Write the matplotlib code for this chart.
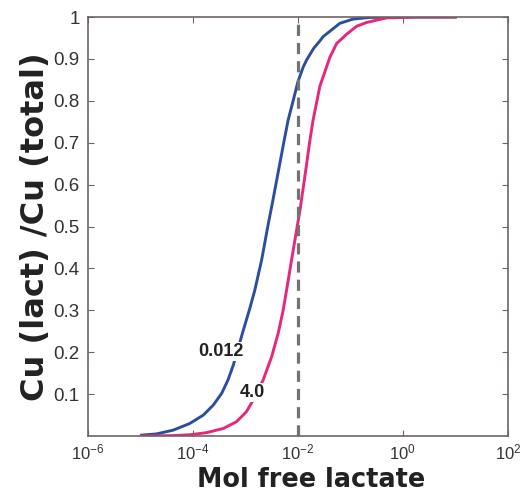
import numpy as np
import matplotlib
matplotlib.use("Agg")
import matplotlib.pyplot as plt

plt.rcParams["font.family"] = ["Liberation Sans", "DejaVu Sans"]
plt.rcParams["mathtext.fontset"] = "custom"
plt.rcParams["mathtext.rm"] = "Liberation Sans"
plt.rcParams["mathtext.it"] = "Liberation Sans:italic"
plt.rcParams["mathtext.bf"] = "Liberation Sans:bold"

# values (log10 of free lactate, bound fraction)
blue_logx = [-4.98, -4.69, -4.375, -4.057, -3.80, -3.61, -3.45, -3.33, -3.23, -3.17,
             -3.04, -2.914, -2.82, -2.69, -2.573, -2.47, -2.26, -2.185, -2.09, -2.0,
             -1.90, -1.835, -1.70, -1.58, -1.52, -1.26, -1.2, -0.95, -0.63, 0.0, 1.0]
blue_y = [0.002, 0.005, 0.014, 0.030, 0.050, 0.074, 0.102, 0.134, 0.169, 0.195,
          0.252, 0.305, 0.348, 0.42, 0.50, 0.566, 0.706, 0.754, 0.80, 0.845,
          0.88, 0.897, 0.925, 0.943, 0.953, 0.979, 0.985, 0.995, 0.999, 1.0, 1.0]
pink_logx = [-4.98, -4.375, -4.057, -3.74, -3.42, -3.17, -2.98, -2.85, -2.66, -2.50,
             -2.375, -2.28, -2.215, -2.12, -1.96, -1.867, -1.77, -1.71, -1.58, -1.39,
             -1.26, -1.07, -0.88, -0.69, -0.31, 0.3, 1.0]
pink_y = [0.0, 0.001, 0.003, 0.008, 0.018, 0.034, 0.058, 0.086, 0.134, 0.189,
          0.245, 0.30, 0.348, 0.42, 0.539, 0.619, 0.706, 0.754, 0.835, 0.904,
          0.937, 0.959, 0.978, 0.987, 0.998, 1.0, 1.0]
curve_labels = ["0.012", "4.0"]
vline_x = 1e-2
yticks = [0.1, 0.2, 0.3, 0.4, 0.5, 0.6, 0.7, 0.8, 0.9, 1.0]
ytick_labels = ["0.1", "0.2", "0.3", "0.4", "0.5", "0.6", "0.7", "0.8", "0.9", "1"]
xticks = [1e-6, 1e-4, 1e-2, 1e0, 1e2]

BLUE = "#2c4e9e"; PINK = "#e6277c"; FRAME = "#6e6562"; INK = "#222222"

fig = plt.figure(figsize=(5.23, 4.92), dpi=100)
ax = fig.add_axes([0.168, 0.1138, 0.803, 0.8516])

ax.plot(10 ** np.array(blue_logx), blue_y, color=BLUE, lw=2.1, solid_joinstyle="round")
ax.plot(10 ** np.array(pink_logx), pink_y, color=PINK, lw=2.1, solid_joinstyle="round")
ax.axvline(vline_x, color="#737373", lw=2.3, ls=(0, (3.5, 2.2)))

box = dict(facecolor="white", edgecolor="none", pad=0.6)
ax.text(10 ** -3.457, 0.201, curve_labels[0], fontsize=13, fontweight="bold",
        ha="center", va="center", color=INK, bbox=box)
ax.text(10 ** -2.867, 0.103, curve_labels[1], fontsize=13, fontweight="bold",
        ha="center", va="center", color=INK, bbox=box)

ax.set_xscale("log")
ax.set_xlim(1e-6, 1e2)
ax.set_ylim(0, 1)
ax.set_xticks(xticks)
ax.xaxis.set_minor_locator(matplotlib.ticker.NullLocator())
ax.set_yticks(yticks)
ax.set_yticklabels(ytick_labels)
ax.tick_params(direction="in", length=4, width=0.8, color=FRAME, top=True, right=True,
               labelcolor="#333333", pad=5)
ax.tick_params(axis="x", labelsize=12)
ax.tick_params(axis="y", labelsize=13.5, pad=6)
for s in ax.spines.values():
    s.set_color(FRAME); s.set_linewidth(1.2)

ax.set_xlabel("Mol free lactate", fontsize=18.4, fontweight="bold", color=INK,
              family="DejaVu Sans", labelpad=3)
ax.xaxis.label.set_x(0.531)
ax.set_ylabel("Cu (lact) /Cu (total)", fontsize=23, fontweight="bold", color=INK,
              family="DejaVu Sans", labelpad=2)

fig.savefig("out.png", dpi=100)
